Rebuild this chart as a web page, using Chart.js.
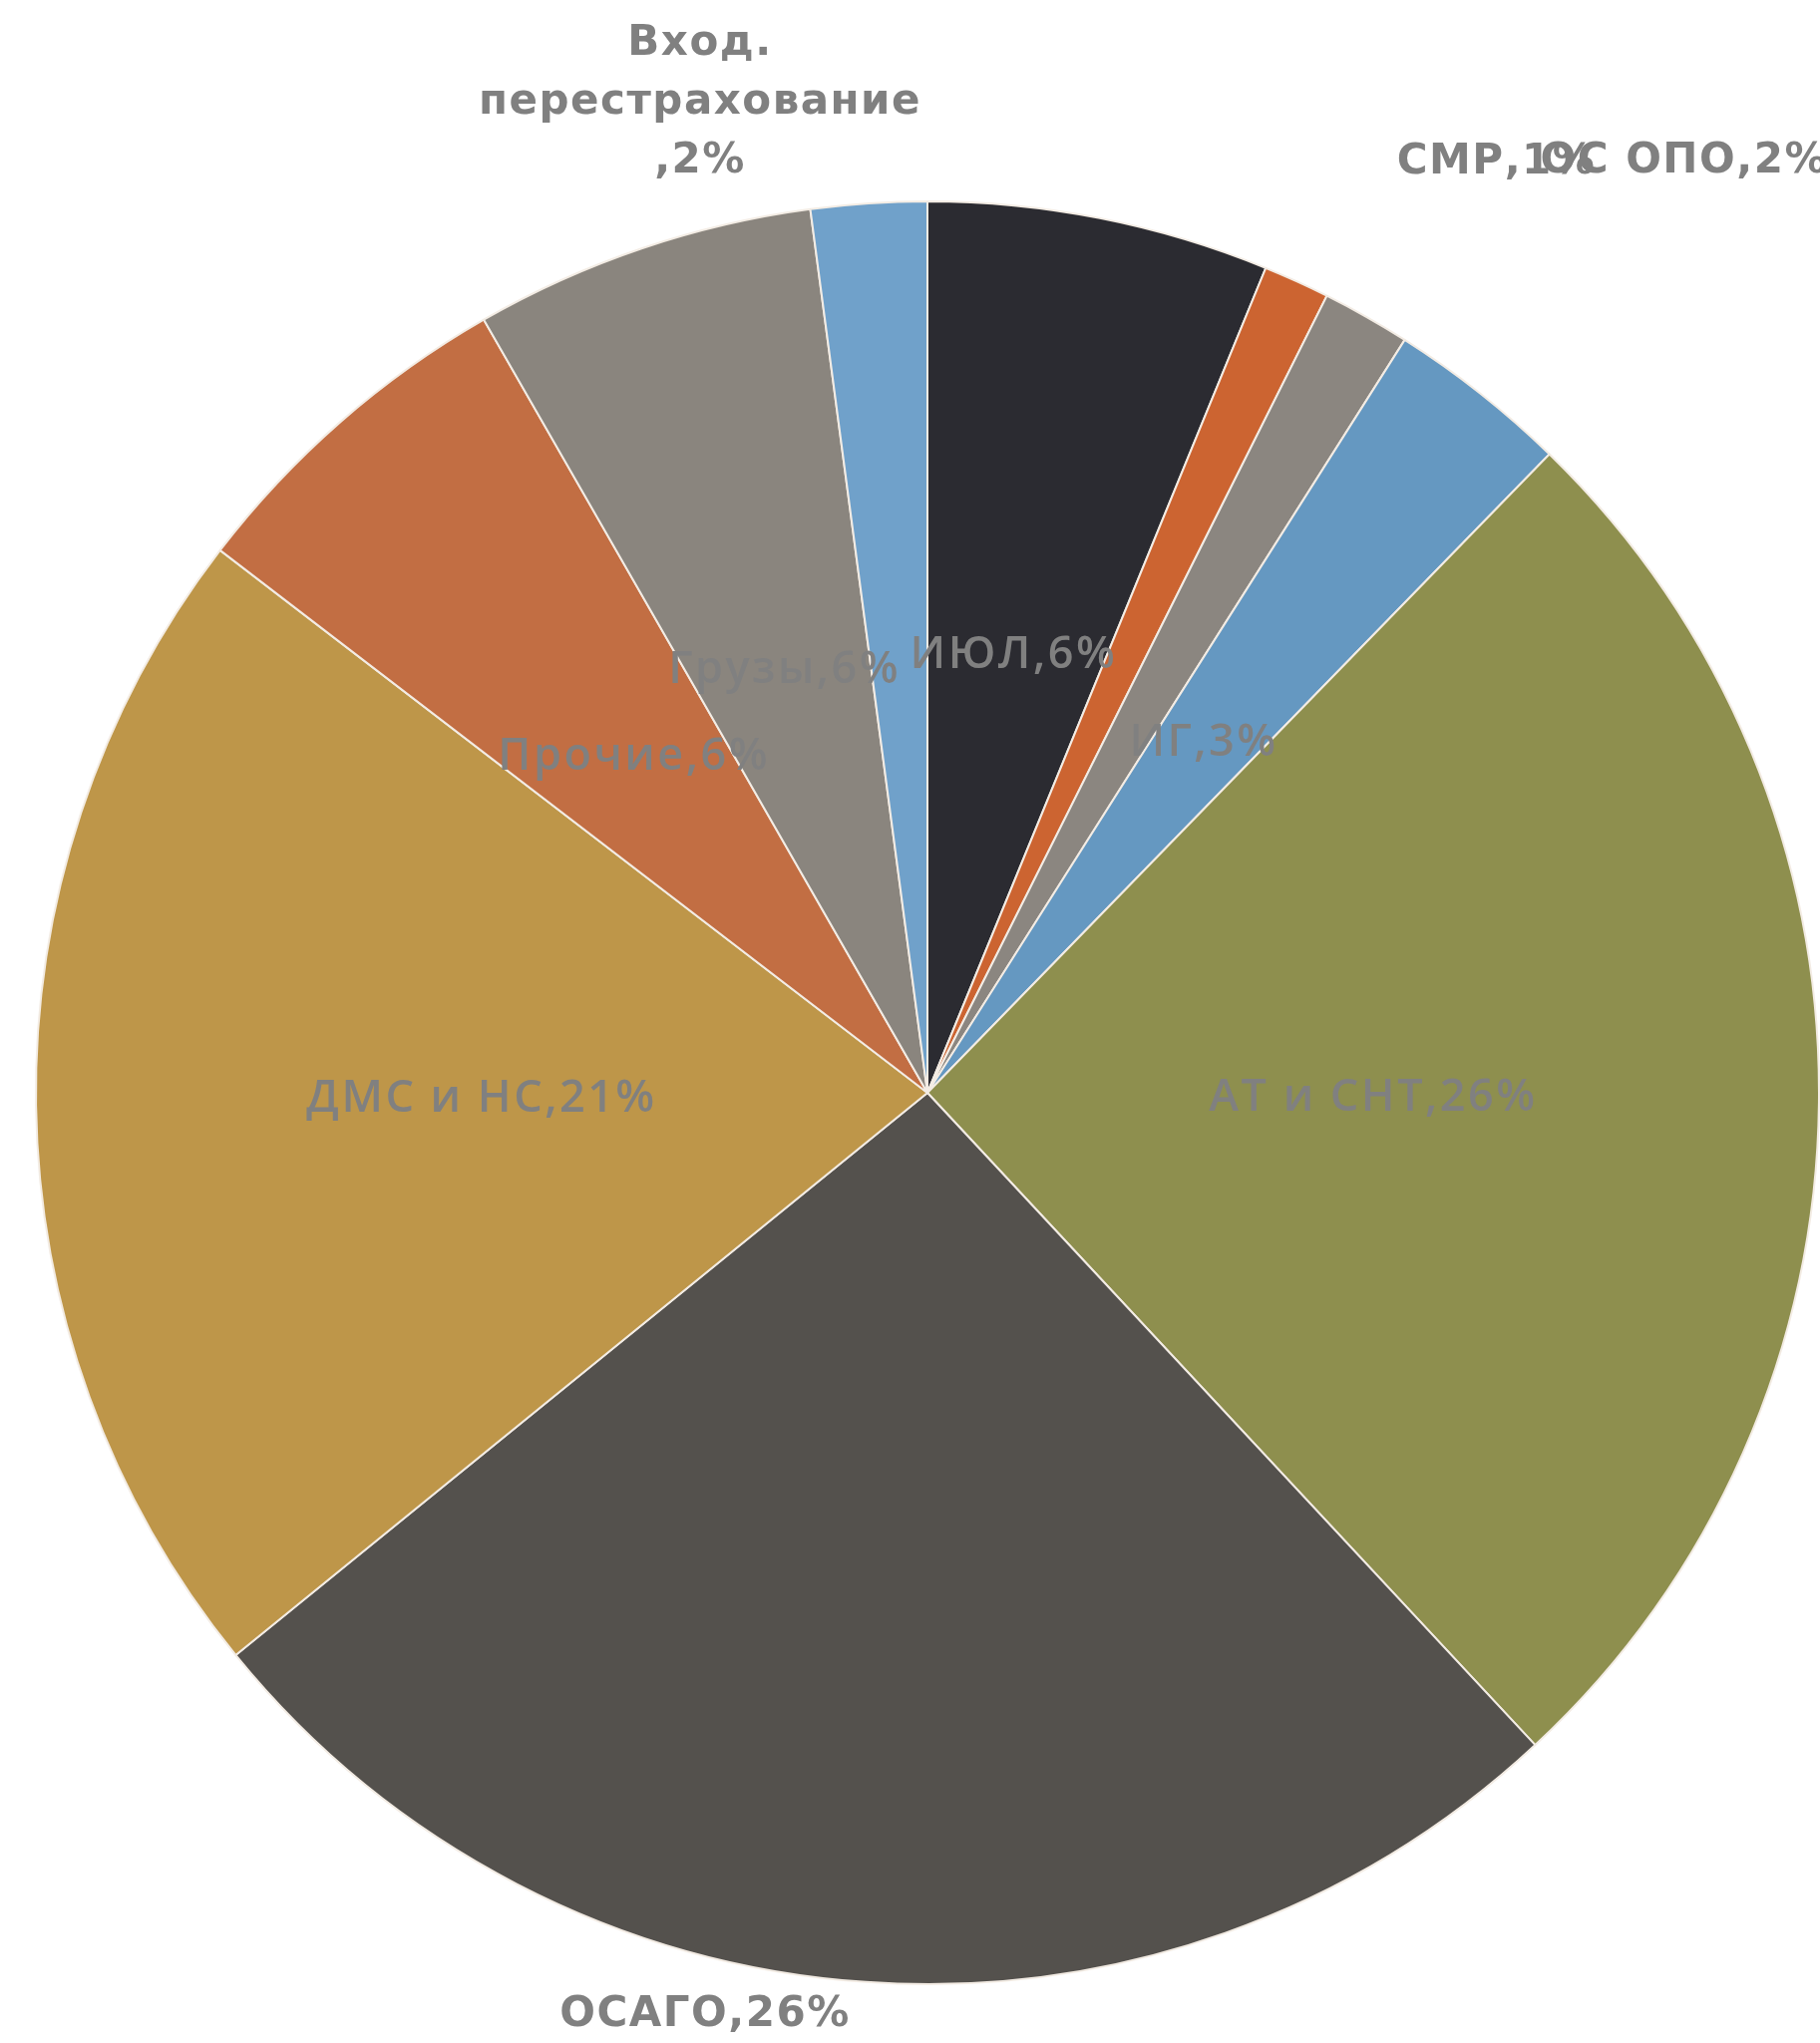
<!DOCTYPE html>
<html>
<head>
<meta charset="utf-8">
<script src="https://cdn.jsdelivr.net/npm/chart.js@4.4.1/dist/chart.umd.min.js"></script>
<style>
html,body{margin:0;padding:0;background:#ffffff;}
#wrap{width:1825px;height:2049px;position:relative;}
</style>
</head>
<body>
<div id="wrap"><canvas id="c" width="1825" height="2049"></canvas></div>
<script>
// ---- data ----
const categories = ["ИЮЛ", "СМР", "ОС ОПО", "ИГ", "АТ и СНТ", "ОСАГО", "ДМС и НС", "Прочие", "Грузы", "Вход. перестрахование"];
const shares = [6.2, 1.2, 1.6, 3.3, 25.8, 26.1, 21.3, 6.3, 6.2, 2.1];
const sliceColors = ["#2b2b31", "#cc6431", "#8b8680", "#6598c1", "#8e8f4e", "#54514d", "#be9649", "#c26e43", "#8a857e", "#70a1ca"];

// label placement (style config, not data): inside at half radius, or outside with angle nudge (deg) and distance factor
const labelPlacement = [
  {mode: "inside"},
  {mode: "outside", nudge: 7.0, dist: 1.223},
  {mode: "outside", nudge: 9.6, dist: 1.346},
  {mode: "inside"},
  {mode: "inside"},
  {mode: "outside", nudge: 9.6, dist: 1.064},
  {mode: "inside"},
  {mode: "inside"},
  {mode: "inside"},
  {mode: "outside", nudge: -9.15, dist: 1.14, maxWidth: 480}
];

const labelPlugin = {
  id: "sliceLabels",
  afterDatasetsDraw(chart) {
    const ctx = chart.ctx;
    const meta = chart.getDatasetMeta(0);
    const data = chart.data.datasets[0].data;
    const total = data.reduce((a, b) => a + b, 0);
    ctx.save();
    ctx.fillStyle = "#808080";
    ctx.textAlign = "center";
    ctx.textBaseline = "middle";
    meta.data.forEach((arc, i) => {
      const p = arc.getProps(["x", "y", "startAngle", "endAngle", "outerRadius"], true);
      const pct = Math.round(data[i] / total * 100);
      const name = chart.data.labels[i];
      const cfg = labelPlacement[i];
      const mid = (p.startAngle + p.endAngle) / 2;
      let ang = mid, r = p.outerRadius * 0.5;
      if (cfg.mode === "outside") {
        ang = mid + cfg.nudge * Math.PI / 180;
        r = p.outerRadius * cfg.dist;
        ctx.font = "bold 42px 'DejaVu Sans'";
        if ("letterSpacing" in ctx) ctx.letterSpacing = "1.5px";
      } else {
        ctx.font = "600 45px 'Open Sans'";
        if ("letterSpacing" in ctx) ctx.letterSpacing = "2.5px";
      }
      const cx = p.x + Math.cos(ang) * r;
      const cy = p.y + Math.sin(ang) * r;
      let lines = [name + "," + pct + "%"];
      if (cfg.maxWidth) {
        const tokens = name.split(" ").concat(["," + pct + "%"]);
        lines = [];
        let cur = "";
        tokens.forEach((t) => {
          const trial = cur ? cur + (t.startsWith(",") ? "" : " ") + t : t;
          if (cur && ctx.measureText(trial).width > cfg.maxWidth) {
            lines.push(cur);
            cur = t;
          } else {
            cur = trial;
          }
        });
        if (cur) lines.push(cur);
      }
      const lh = 59;
      const y0 = cy - (lines.length - 1) * lh / 2;
      lines.forEach((ln, k) => ctx.fillText(ln, cx, y0 + k * lh));
    });
    ctx.restore();
  }
};

new Chart(document.getElementById("c"), {
  type: "pie",
  data: {
    labels: categories,
    datasets: [{
      data: shares,
      backgroundColor: sliceColors,
      borderColor: "#f3ece4",
      borderWidth: 2
    }]
  },
  options: {
    responsive: false,
    animation: false,
    devicePixelRatio: 1,
    layout: {padding: {top: 200, bottom: 57, left: 35, right: 0}},
    plugins: {
      legend: {display: false},
      tooltip: {enabled: false}
    }
  },
  plugins: [labelPlugin]
});
</script>
</body>
</html>
